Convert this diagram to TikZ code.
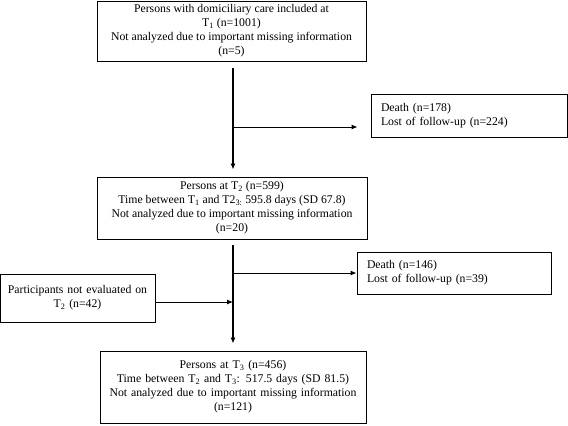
\documentclass[tikz,border=0pt]{standalone}
\usepackage{fontspec}
\setmainfont{Liberation Serif}
\usetikzlibrary{arrows.meta}
\tikzset{
  box/.style={draw, line width=0.9bp, inner xsep=4bp, inner ysep=2bp, align=center, font=\fontsize{11.8}{14}\selectfont},
  lbox/.style={box, align=left, inner xsep=10bp},
  flow/.style={line width=1bp, -{Latex[length=6bp,width=5bp]}},
  trunk/.style={line width=1.3bp}
}
\begin{document}
\begin{tikzpicture}[x=1bp,y=-1bp]
        \useasboundingbox (0,0) rectangle (568,425);

        \node[box, minimum width=269bp, minimum height=60bp] (T1) at (231.5,31) {Persons with domiciliary care included at\\ T\textsubscript{1} (n=1001)\\ Not analyzed due to important missing information\\ (n=5)};
        \node[lbox, text width=176bp, minimum height=43bp] (d1) at (469,115.5) {Death (n=178)\\ Lost of follow-up (n=224)};

        \node[box, minimum width=270bp, minimum height=62bp] (T2) at (232,208) {Persons at T\textsubscript{2} (n=599)\\ Time between T\textsubscript{1} and T2\textsubscript{3:} 595.8 days (SD 67.8)\\ Not analyzed due to important missing information\\ (n=20)};
        \node[lbox, text width=174bp, minimum height=42bp] (d2) at (454,273) {Death (n=146)\\ Lost of follow-up (n=39)};
        \node[box, text width=147bp, minimum height=48bp] (np) at (77.5,298) {Participants not evaluated on\\ T\textsubscript{2} (n=42)\par\vspace{12bp}};

        \node[box, text width=258bp, minimum height=72bp] (T3) at (233,387) {Persons at T\textsubscript{3} (n=456)\\ Time between T\textsubscript{2} and T\textsubscript{3}: 517.5 days (SD 81.5)\\ Not analyzed due to important missing information\\ (n=121)\par\vspace{6bp}};

        \coordinate (a1) at (233,68);
        \coordinate (b1) at (233,127);
        \coordinate (a2) at (233,245);
        \coordinate (b2) at (233,273);
        \coordinate (c2) at (233,302);

        \draw[trunk] (a1) -- (a1 |- b1);
        \draw[flow, trunk] (a1 |- b1) -- (a1 |- T2.north) [shorten >=7bp];
        \draw[flow] (b1) -- (b1 -| d1.west) [shorten >=13bp];

        \draw[flow, trunk] (a2) -- (a2 |- T3.north) [shorten >=7bp];
        \draw[flow] (b2) -- (d2.west);
        \draw[flow] (np.east |- c2) -- (c2);
\end{tikzpicture}
\end{document}
